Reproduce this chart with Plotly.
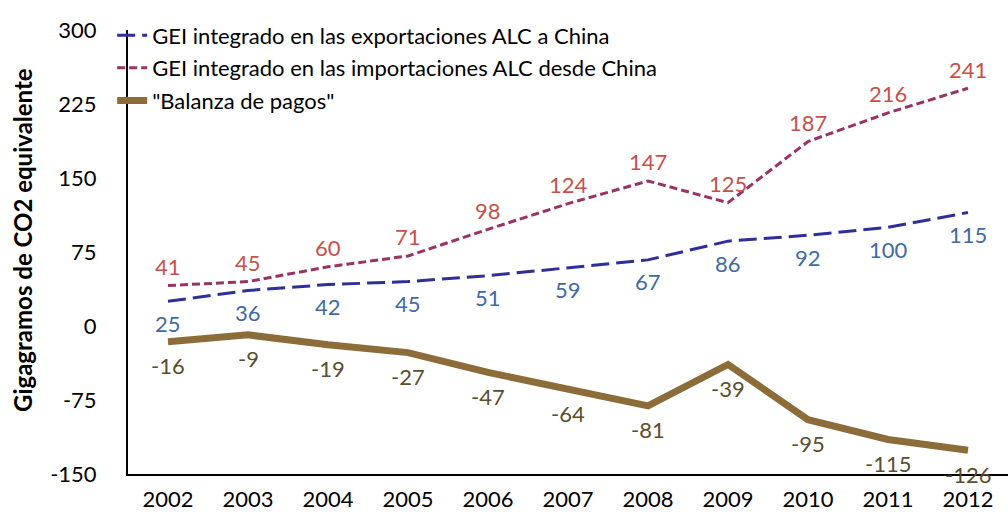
import plotly.graph_objects as go

# Emisiones de GEI integradas en el comercio ALC–China (Gg CO2 eq.)
years = ["2002", "2003", "2004", "2005", "2006", "2007", "2008", "2009", "2010", "2011", "2012"]
exportaciones = [25, 36, 42, 45, 51, 59, 67, 86, 92, 100, 115]
importaciones = [41, 45, 60, 71, 98, 124, 147, 125, 187, 216, 241]
balanza = [-16, -9, -19, -27, -47, -64, -81, -39, -95, -115, -126]

y_ticks = [-150, -75, 0, 75, 150, 225, 300]
y_tick_labels = [str(v) for v in y_ticks]

FONT = "Lato, 'Open Sans', sans-serif"
SIZE = 22

fig = go.Figure()

fig.add_trace(go.Scatter(
    x=years, y=exportaciones, mode="lines",
    name="GEI integrado en las exportaciones ALC a China",
    line=dict(color="#2E2F98", width=3, dash="18px,7px"),
    legendgroup="exp",
))
fig.add_trace(go.Scatter(
    x=years, y=importaciones, mode="lines",
    name="GEI integrado en las importaciones ALC desde China",
    line=dict(color="#993366", width=3, dash="8px,4px"),
    legendgroup="imp",
))
fig.add_trace(go.Scatter(
    x=years, y=balanza, mode="lines",
    name="\"Balanza de pagos\"",
    line=dict(color="#8C6D3A", width=7),
    legendgroup="bal",
))

# Etiquetas de valores sobre/bajo cada serie (x como índice de categoría)
annotations = []
for series, color, shift in [
    (exportaciones, "#3F6AA5", -22),
    (importaciones, "#C8504B", 19),
    (balanza, "#5A4E2C", -24),
]:
    for i, v in enumerate(series):
        annotations.append(dict(
            x=i, y=v, xref="x", yref="y", text=str(v), showarrow=False,
            yshift=shift, font=dict(family=FONT, size=SIZE, color=color),
        ))

annotations.append(dict(
    text="<b>Gigagramos de CO2 equivalente</b>", textangle=-90,
    xref="paper", yref="paper", x=-0.1205, y=0.527,
    xanchor="center", yanchor="middle", showarrow=False,
    font=dict(family=FONT, size=24, color="black"),
))

fig.update_layout(
    width=1008, height=514,
    margin=dict(l=128, r=0, t=30, b=40),
    paper_bgcolor="white", plot_bgcolor="white",
    font=dict(family=FONT, size=SIZE, color="black"),
    showlegend=True,
    legend=dict(
        x=-0.018, y=1.035, xanchor="left", yanchor="top",
        bgcolor="rgba(0,0,0,0)", borderwidth=0,
        traceorder="grouped", tracegroupgap=1,
        font=dict(family=FONT, size=SIZE, color="black"),
    ),
    xaxis=dict(
        type="category", range=[-0.5, 10.5],
        showline=True, linecolor="black", linewidth=2,
        showgrid=False, zeroline=False, ticks="",
        ticklabelstandoff=5,
        tickfont=dict(family=FONT, size=SIZE, color="black"),
    ),
    yaxis=dict(
        range=[-150, 300], tickvals=y_ticks, ticktext=y_tick_labels,
        showline=True, linecolor="black", linewidth=2,
        showgrid=False, zeroline=False, ticks="",
        ticklabelstandoff=25,
        tickfont=dict(family=FONT, size=SIZE, color="black"),
    ),
    annotations=annotations,
)

fig.write_html("out.html")
